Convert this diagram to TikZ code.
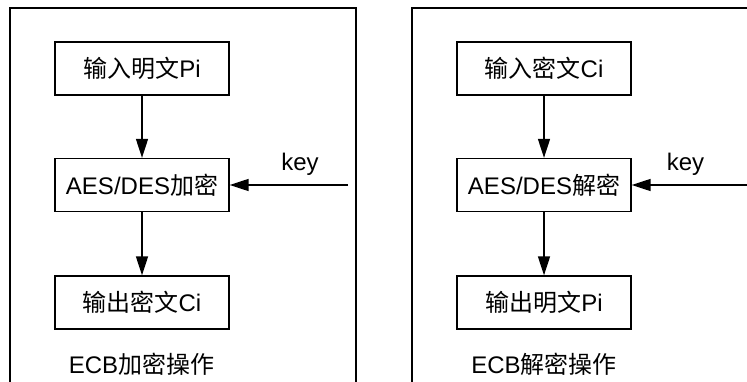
\documentclass[tikz,border=0pt]{standalone}
\usepackage{fontspec}
\setmainfont{Liberation Sans}
\newfontfamily\cjk{Noto Sans CJK SC}
\usetikzlibrary{arrows.meta}
\begin{document}
\begin{tikzpicture}[x=1pt,y=-1pt,
  box/.style={draw,line width=1.3pt,minimum width=174pt,minimum height=53pt,inner sep=0pt,font=\fontsize{24}{26}\selectfont},
  lbl/.style={font=\fontsize{24}{26}\selectfont,inner sep=0pt,anchor=base},
  arr/.style={line width=1.4pt,-{Triangle[length=19pt,width=12pt]}},
  frame/.style={line width=1.2pt}]
\useasboundingbox (0,0) rectangle (747,382);
% left frame
\draw[frame] (10,383) -- (10,8) -- (356,8) -- (356,383);
\node[box] (p1) at (142,68.5) {{\cjk 输入明文}Pi};
\node[box] (e1) at (142,185) {AES/DES{\cjk 加密}};
\node[box] (c1) at (142,302.5) {{\cjk 输出密文}Ci};
\coordinate (k1) at (348,185);
\draw[arr] (p1) -- (e1);
\draw[arr] (e1) -- (c1);
\draw[arr] (k1) -- (e1);
\node[lbl] (kl1) at (300,171) {key};
\node[lbl] (t1) at (141.5,373) {ECB{\cjk 加密操作}};
% right frame
\draw[frame] (412,383) -- (412,8) -- (748,8);
\node[box] (c2) at (544,68.5) {{\cjk 输入密文}Ci};
\node[box] (d2) at (544,185) {AES/DES{\cjk 解密}};
\node[box] (p2) at (544,302.5) {{\cjk 输出明文}Pi};
\coordinate (k2) at (748,185);
\draw[arr] (c2) -- (d2);
\draw[arr] (d2) -- (p2);
\draw[arr] (k2) -- (d2);
\node[lbl] (kl2) at (685.5,171) {key};
\node[lbl] (t2) at (544,373) {ECB{\cjk 解密操作}};
\end{tikzpicture}
\end{document}
